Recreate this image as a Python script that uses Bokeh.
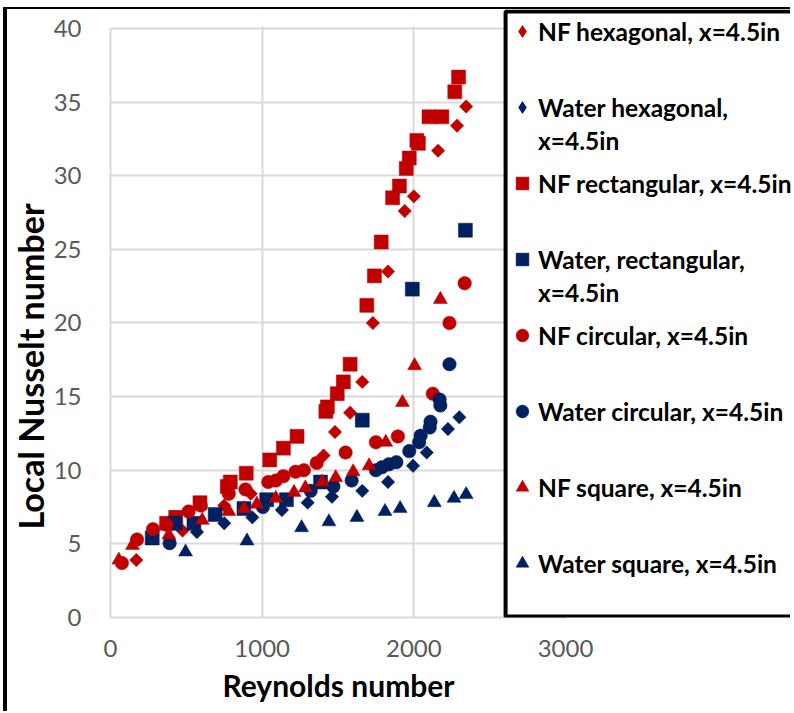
import numpy as np
from bokeh.plotting import figure
from bokeh.models import Legend, LegendItem, Range1d, FixedTicker, BoxAnnotation, Title
from bokeh.embed import file_html
from bokeh.resources import INLINE

RED = "#C00000"
BLUE = "#002060"

# ---- data (Reynolds number, local Nusselt number) ----
nf_hex_re = [170, 475, 750, 925, 1405, 1480, 1580, 1660, 1730, 1830, 1940, 2000, 2160, 2285, 2345]
nf_hex_nu = [3.9, 5.9, 7.6, 8.4, 11.0, 12.6, 13.9, 16.0, 20.0, 23.5, 27.6, 28.6, 31.7, 33.4, 34.7]

water_hex_re = [570, 750, 935, 1130, 1300, 1460, 1660, 1830, 1995, 2085, 2225, 2300]
water_hex_nu = [5.8, 6.4, 6.8, 7.3, 7.8, 8.2, 8.6, 9.2, 10.3, 11.2, 12.8, 13.6]

nf_rect_re = [370, 430, 590, 770, 790, 895, 1050, 1140, 1230, 1420, 1430, 1495, 1535, 1580,
              1690, 1740, 1785, 1860, 1905, 1950, 1970, 2020, 2030, 2100, 2185, 2270, 2295]
nf_rect_nu = [6.4, 6.8, 7.8, 8.9, 9.2, 9.8, 10.7, 11.5, 12.3, 14.0, 14.3, 15.2, 16.0, 17.2,
              21.2, 23.2, 25.5, 28.5, 29.3, 30.5, 31.2, 32.4, 32.2, 34.0, 34.0, 35.7, 36.7]

water_rect_re = [275, 425, 550, 690, 880, 1030, 1160, 1385, 1660, 1990, 2340]
water_rect_nu = [5.4, 6.4, 6.4, 7.0, 7.4, 8.0, 8.0, 9.2, 13.4, 22.3, 26.3]

nf_circ_re = [75, 175, 280, 370, 515, 595, 780, 890, 1040, 1090, 1140, 1220, 1275, 1360,
              1550, 1750, 1895, 2125, 2235, 2335]
nf_circ_nu = [3.7, 5.3, 6.0, 6.3, 7.2, 7.6, 8.4, 8.7, 9.2, 9.3, 9.6, 9.9, 10.0, 10.5,
              11.2, 11.9, 12.3, 15.2, 20.0, 22.7]

water_circ_re = [390, 1005, 1320, 1470, 1590, 1750, 1790, 1835, 1885, 1970, 2035, 2045,
                 2105, 2110, 2170, 2175, 2235]
water_circ_nu = [5.05, 7.5, 8.6, 8.9, 9.3, 10.0, 10.2, 10.4, 10.55, 11.3, 11.9, 12.35,
                 12.9, 13.3, 14.8, 14.4, 17.2]

nf_sq_re = [55, 145, 385, 605, 780, 880, 965, 1090, 1210, 1285, 1395, 1485, 1600, 1705,
            1815, 1925, 2005, 2175]
nf_sq_nu = [3.9, 4.9, 5.6, 6.6, 7.2, 7.4, 7.7, 8.1, 8.5, 8.8, 9.2, 9.5, 9.9, 10.3,
            11.9, 14.6, 17.1, 21.6]

water_sq_re = [495, 900, 1260, 1440, 1625, 1810, 1910, 2135, 2265, 2345]
water_sq_nu = [4.45, 5.2, 6.1, 6.5, 6.8, 7.2, 7.4, 7.8, 8.1, 8.35]

x_ticks = [0, 1000, 2000, 3000]
y_ticks = [0, 5, 10, 15, 20, 25, 30, 35, 40]

# legend text: first line, optional second line
# label1, label2, x, y, data marker, legend marker, colour, size, angle
series = [
    ("NF hexagonal, x=4.5in", None, nf_hex_re, nf_hex_nu, "square", "diamond", RED, 9.5, np.pi / 4),
    ("Water hexagonal,", "x=4.5in", water_hex_re, water_hex_nu, "square", "diamond", BLUE, 9.5, np.pi / 4),
    ("NF rectangular, x=4.5in", None, nf_rect_re, nf_rect_nu, "square", "square", RED, 14, 0),
    ("Water, rectangular,", "x=4.5in", water_rect_re, water_rect_nu, "square", "square", BLUE, 14, 0),
    ("NF circular, x=4.5in", None, nf_circ_re, nf_circ_nu, "circle", "circle", RED, 13.5, 0),
    ("Water circular, x=4.5in", None, water_circ_re, water_circ_nu, "circle", "circle", BLUE, 13.5, 0),
    ("NF square, x=4.5in", None, nf_sq_re, nf_sq_nu, "triangle", "triangle", RED, 14, 0),
    ("Water square, x=4.5in", None, water_sq_re, water_sq_nu, "triangle", "triangle", BLUE, 14, 0),
]

p = figure(width=787, height=704, output_backend="svg", toolbar_location=None,
           x_range=Range1d(0, 4510), y_range=Range1d(0, 41.29),
           min_border_left=95, min_border_right=0, min_border_top=0, min_border_bottom=96)
p.styles = {"margin-left": "3px", "margin-top": "7px",
            "border-left": "4px solid black", "border-top": "2px solid black"}
p.outline_line_color = None
p.background_fill_color = "white"
p.border_fill_color = "white"

# white mask above the top (40) gridline
p.add_layout(BoxAnnotation(bottom=40.12, fill_color="white", fill_alpha=1.0,
                           line_color=None, level="underlay"))

items_main = []
items_second = []
for label1, label2, xs, ys, marker, lmarker, color, size, angle in series:
    r = p.scatter(xs, ys, marker=marker, size=size, angle=angle,
                  fill_color=color, line_color=color, line_width=0.5)
    leg_r = r
    if lmarker != marker:
        # same points drawn as a narrow diamond hidden inside the rotated square
        leg_r = p.scatter(xs, ys, marker=lmarker, size=size * 1.25,
                          fill_color=color, line_color=None)
    items_main.append(LegendItem(label=label1, renderers=[leg_r]))
    if label2 is not None:
        ghost = p.scatter(xs, ys, marker=marker, size=size, fill_alpha=0, line_alpha=0)
        items_second.append(LegendItem(label=label2, renderers=[ghost]))

for ax in (p.xaxis, p.yaxis):
    ax.major_tick_line_color = None
    ax.minor_tick_line_color = None
    ax.axis_line_color = "#d9d9d9"
    ax.axis_line_width = 2
    ax.major_label_text_font = "Lato"
    ax.major_label_text_font_size = "24px"
    ax.major_label_text_color = "#595959"

p.xaxis.ticker = FixedTicker(ticks=x_ticks)
p.yaxis.ticker = FixedTicker(ticks=y_ticks)
p.xaxis.bounds = (0, 3000)
p.yaxis.bounds = (0, 40)
p.xaxis.major_label_standoff = 16
p.yaxis.major_label_standoff = 23

p.xgrid.grid_line_color = "#d9d9d9"
p.ygrid.grid_line_color = "#d9d9d9"
p.xgrid.grid_line_width = 2
p.ygrid.grid_line_width = 2

# axis titles (placed like the Excel titles)
p.add_layout(Title(text="Reynolds number", align="left", offset=112, standoff=10,
                   text_font="Lato", text_font_style="bold", text_font_size="30px",
                   text_color="black"), "below")
p.add_layout(Title(text="Local Nusselt number", align="left", offset=88, standoff=0,
                   text_font="Lato", text_font_style="bold", text_font_size="34px",
                   text_color="black"), "left")

# legend frame
p.add_layout(BoxAnnotation(left=2605, right=4700, bottom=0.07, top=41.15,
                           fill_color="white", fill_alpha=1.0,
                           line_color="black", line_width=4, line_alpha=1.0))

common = dict(orientation="vertical", border_line_color=None,
              background_fill_alpha=0.0,
              label_text_font="Lato", label_text_font_style="bold",
              label_text_font_size="24.5px", label_text_color="black",
              glyph_width=32, glyph_height=32, label_standoff=0,
              label_height=40, padding=0, margin=0)

legend_main = Legend(items=items_main, location=(396, 34), spacing=36, **common)
legend_second = Legend(items=items_second, location=(396, 305), spacing=112, **common)
p.add_layout(legend_main, "center")
p.add_layout(legend_second, "center")

open("out.html", "w").write(file_html(p, INLINE))
